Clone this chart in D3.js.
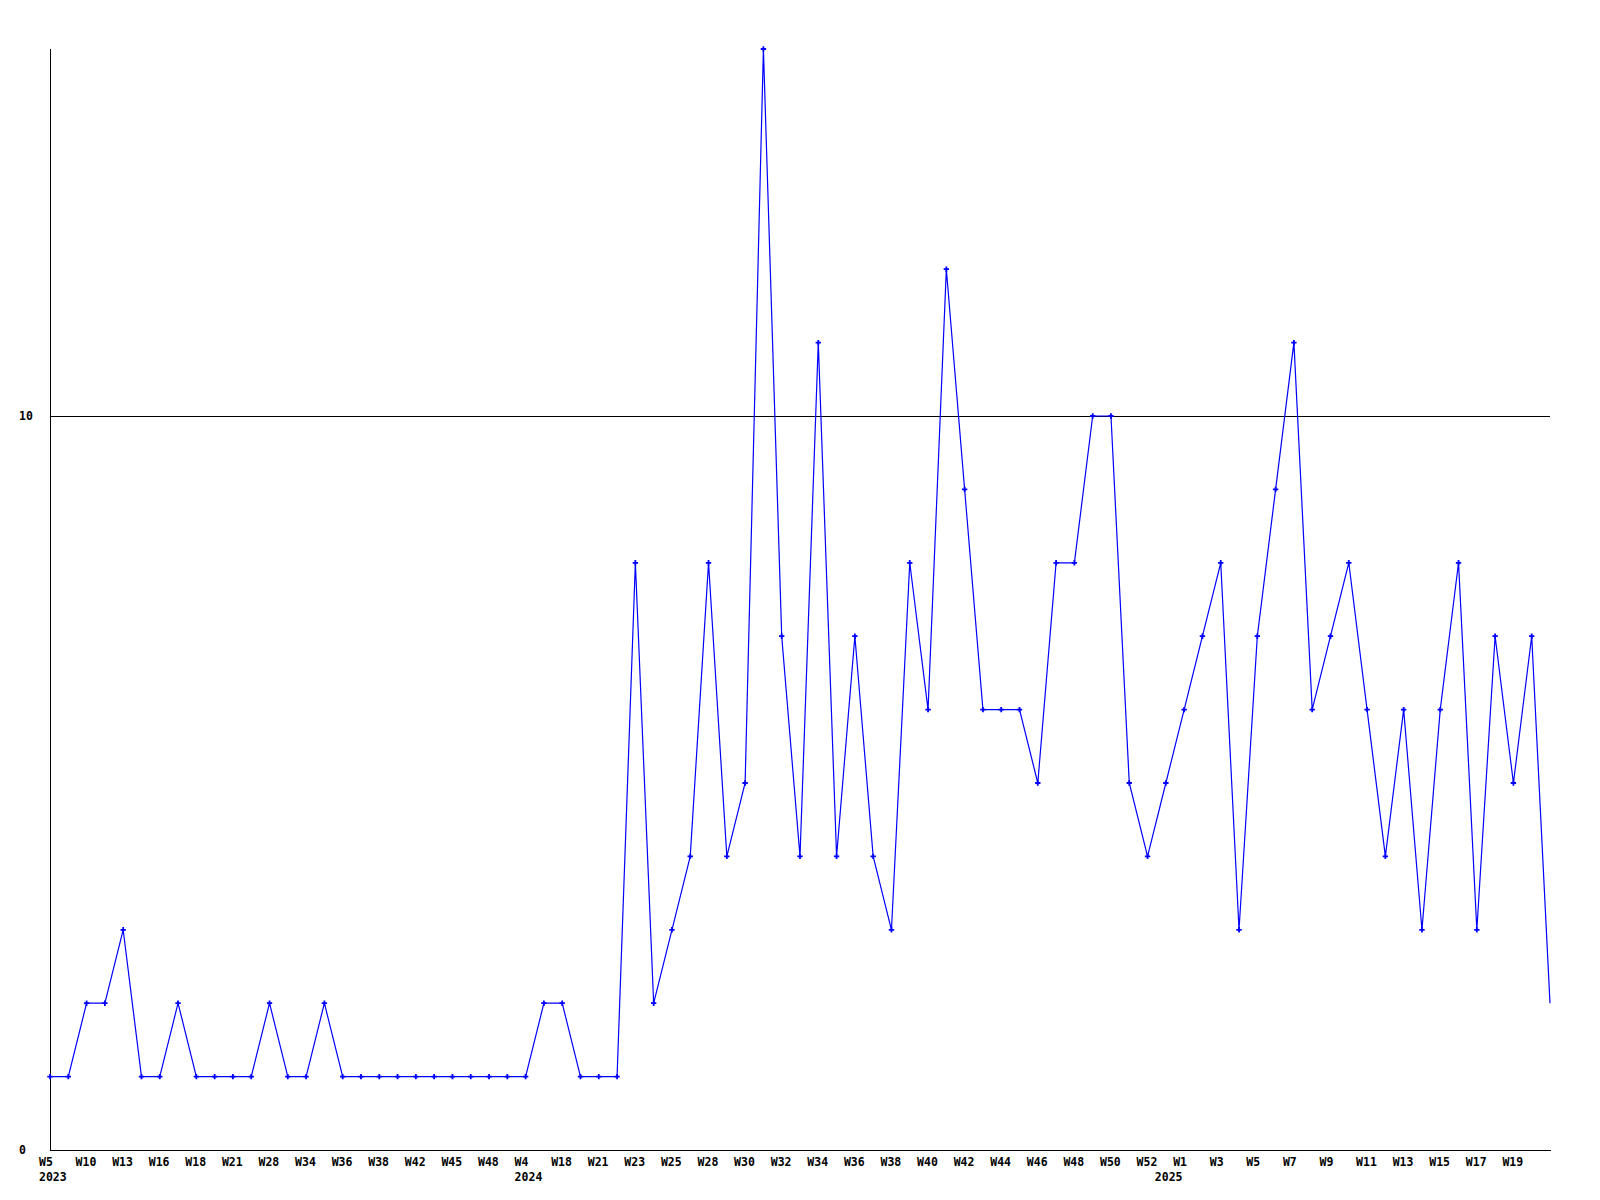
<!DOCTYPE html>
<html>
<head>
<meta charset="utf-8">
<script src="https://cdn.jsdelivr.net/npm/d3@7"></script>
<style>
  html, body { margin: 0; padding: 0; background: #fff; }
  svg { display: block; }
  text { font-family: "DejaVu Sans Mono", "Liberation Mono", monospace; font-weight: bold; font-size: 11.5px; fill: #000; }
</style>
</head>
<body>
<svg id="chart" width="1600" height="1200"></svg>
<script>
// Weekly values (one per data point, in order)
const values = [
  1, 1, 2, 2, 3, 1, 1, 2, 1, 1,
  1, 1, 2, 1, 1, 2, 1, 1, 1, 1,
  1, 1, 1, 1, 1, 1, 1, 2, 2, 1,
  1, 1, 8, 2, 3, 4, 8, 4, 5, 15,
  7, 4, 11, 4, 7, 4, 3, 8, 6, 12,
  9, 6, 6, 6, 5, 8, 8, 10, 10, 5,
  4, 5, 6, 7, 8, 3, 7, 9, 11, 6,
  7, 8, 6, 4, 6, 3, 6, 8, 3, 7,
  5, 7, 2
];

// Tick labels, one for every second data point
const tickLabels = [
  "W5", "W10", "W13", "W16", "W18", "W21", "W28", "W34", "W36", "W38",
  "W42", "W45", "W48", "W4", "W18", "W21", "W23", "W25", "W28", "W30",
  "W32", "W34", "W36", "W38", "W40", "W42", "W44", "W46", "W48", "W50",
  "W52", "W1", "W3", "W5", "W7", "W9", "W11", "W13", "W15", "W17", "W19"
];

// Year labels and the data point index where each year starts
const yearLabels = ["2023", "2024", "2025"];
const yearStartIndex = [0, 26, 61];

// Y axis tick values
const yTicks = [0, 10];

const mLeft = 50, mRight = 1550, mTop = 49, mBottom = 1150;

const svg = d3.select("#chart");

const x = d3.scaleLinear().domain([0, values.length - 1]).range([mLeft, mRight]);
const y = d3.scaleLinear().domain([0, 15]).range([mBottom, mTop]);

// Horizontal reference line at 10
svg.append("g").selectAll("line")
  .data(yTicks.filter(d => d > 0))
  .join("line")
  .attr("x1", mLeft).attr("x2", mRight)
  .attr("y1", d => Math.round(y(d)) + 0.5).attr("y2", d => Math.round(y(d)) + 0.5)
  .attr("stroke", "#000").attr("stroke-width", 1)
  .attr("shape-rendering", "crispEdges");

// Axes lines
svg.append("line")
  .attr("x1", mLeft + 0.5).attr("x2", mLeft + 0.5)
  .attr("y1", mTop).attr("y2", mBottom)
  .attr("stroke", "#000").attr("shape-rendering", "crispEdges");
svg.append("line")
  .attr("x1", mLeft).attr("x2", mRight + 1)
  .attr("y1", mBottom + 0.5).attr("y2", mBottom + 0.5)
  .attr("stroke", "#000").attr("shape-rendering", "crispEdges");

// Y tick labels
svg.append("g").selectAll("text")
  .data(yTicks)
  .join("text")
  .attr("x", 19)
  .attr("y", d => y(d))
  .attr("dy", "0.36em")
  .text(d => d);

// X tick labels
svg.append("g").selectAll("text")
  .data(tickLabels)
  .join("text")
  .attr("x", (d, i) => x(i * 2) - 11)
  .attr("y", 1166)
  .text(d => d);

// Year labels
svg.append("g").selectAll("text")
  .data(yearLabels)
  .join("text")
  .attr("x", (d, i) => x(yearStartIndex[i]) - 11)
  .attr("y", 1181)
  .text(d => d);

// Data line
const line = d3.line()
  .x((d, i) => x(i))
  .y(d => y(d));

svg.append("path")
  .datum(values)
  .attr("d", line)
  .attr("fill", "none")
  .attr("stroke", "#0000ff")
  .attr("stroke-width", 1.2);

// Markers (the last one is cut off at the plot edge)
const cross = d3.symbol().type(d3.symbolCross).size(16);
svg.append("g").selectAll("path")
  .data(values.slice(0, values.length - 1))
  .join("path")
  .attr("d", cross)
  .attr("transform", (d, i) => `translate(${x(i)},${y(d)})`)
  .attr("fill", "#0000ff");
</script>
</body>
</html>
